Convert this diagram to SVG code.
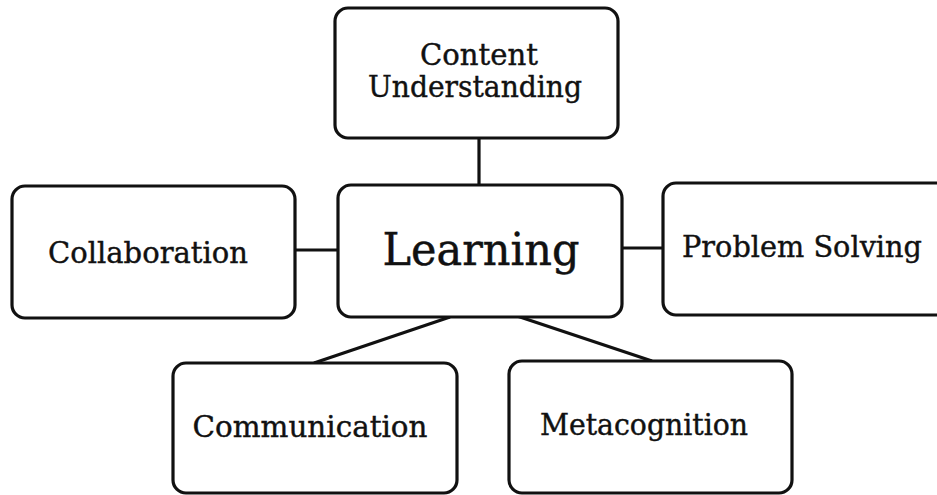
<svg xmlns="http://www.w3.org/2000/svg" width="937" height="495" viewBox="0 0 937 495">
  <style>
    .box { fill: #ffffff; stroke: #111111; stroke-width: 3.2; }
    .link { stroke: #111111; stroke-width: 3.2; fill: none; }
    .label { font-family: "DejaVu Serif", "Liberation Serif", serif; font-size: 29px; fill: #111111; stroke: #111111; stroke-width: 0.4; text-anchor: middle; }
    .big { font-size: 45px; stroke-width: 0.5; }
  </style>
  <rect width="937" height="495" fill="#ffffff"/>

  <!-- connectors between the central node and its neighbours -->
  <g id="connectors">
    <line class="link" x1="479" y1="138" x2="479" y2="185"/>
    <line class="link" x1="295" y1="250" x2="338" y2="250"/>
    <line class="link" x1="622" y1="248" x2="663" y2="248"/>
    <line class="link" x1="450" y1="317" x2="314" y2="363"/>
    <line class="link" x1="517" y1="316" x2="652" y2="361"/>
  </g>

  <g id="content-understanding">
    <rect class="box" x="335" y="8" width="283" height="130" rx="13"/>
    <text class="label" x="479" y="65" textLength="118" lengthAdjust="spacingAndGlyphs">Content</text>
    <text class="label" x="475" y="97" textLength="214" lengthAdjust="spacingAndGlyphs">Understanding</text>
  </g>

  <g id="learning">
    <rect class="box" x="338" y="185" width="284" height="132" rx="13"/>
    <text class="label big" x="481" y="265" textLength="197" lengthAdjust="spacingAndGlyphs">Learning</text>
  </g>

  <g id="collaboration">
    <rect class="box" x="12" y="186" width="283" height="132" rx="13"/>
    <text class="label" x="148" y="263" textLength="200" lengthAdjust="spacingAndGlyphs">Collaboration</text>
  </g>

  <g id="problem-solving">
    <rect class="box" x="663" y="183" width="300" height="132" rx="13"/>
    <text class="label" x="802" y="257" textLength="240" lengthAdjust="spacingAndGlyphs">Problem Solving</text>
  </g>

  <g id="communication">
    <rect class="box" x="173" y="363" width="284" height="130" rx="13"/>
    <text class="label" x="310" y="437" textLength="235" lengthAdjust="spacingAndGlyphs">Communication</text>
  </g>

  <g id="metacognition">
    <rect class="box" x="509" y="361" width="283" height="132" rx="13"/>
    <text class="label" x="644" y="435" textLength="208" lengthAdjust="spacingAndGlyphs">Metacognition</text>
  </g>
</svg>
